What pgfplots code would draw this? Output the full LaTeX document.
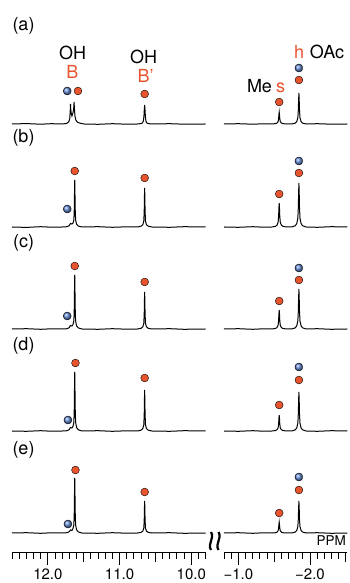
\documentclass[border=0pt]{standalone}
\usepackage{pgfplots}
\pgfplotsset{compat=1.18}
\usepackage{fontspec}
\setmainfont{TeX Gyre Heros}
\definecolor{dotorange}{RGB}{232,84,46}
\definecolor{ballblue}{RGB}{95,135,210}
\newcommand{\tickfont}{\fontsize{15}{17}\selectfont}
\newcommand{\lblfont}{\fontsize{18}{20}\selectfont}
\pgfplotsset{
  nmr/.style={scale only axis, height=552pt, ymin=31, ymax=583, clip=false,
    x dir=reverse, hide y axis, axis x line=bottom,
    x axis line style={-, line width=1pt},
    tick align=outside, major tick length=13pt, minor tick length=7pt,
    tick style={black, line width=0.9pt},
    xticklabel style={font=\tickfont},
    extra x tick labels={}, extra x tick style={major tick length=9.5pt}},
  spec/.style={black, line width=1pt, no marks},
  odot/.style={only marks, mark=*, mark size=3.9pt, mark options={draw=none, fill=dotorange}},
  bdot/.style={only marks, mark=ball, mark size=4pt, mark options={ball color=ballblue}},
}
\begin{document}
\begin{tikzpicture}[x=1pt,y=1pt]
\useasboundingbox (0,0) rectangle (349,583);
% ---------------- left part ----------------
\begin{axis}[nmr, at={(12pt,31pt)}, anchor=south west, width=193.6pt,
  xmin=9.8, xmax=12.5, xtick={10,11,12}, xticklabels={10.0,11.0,12.0},
  minor xtick={9.8,9.9,10.1,10.2,10.3,10.4,10.6,10.7,10.8,10.9,11.1,11.2,11.3,11.4,11.6,11.7,11.8,11.9,12.1,12.2,12.3,12.4,12.5},
  extra x ticks={10.5,11.5}]
% (a)
\addplot[spec] coordinates {(12.5,459)(12.3,459.4)(12.1,458.8)(11.95,459.3)(11.80,459)(11.74,459.5)(11.71,461)(11.695,464)(11.688,472)(11.684,479)(11.680,473)(11.672,469)(11.664,467)(11.650,470)(11.640,474)(11.634,481)(11.630,475)(11.622,467)(11.61,463)(11.59,461)(11.56,460)(11.50,459)(11.3,458.7)(11.1,459.3)(10.9,458.8)(10.75,459)(10.70,459.4)(10.68,460.1)(10.668,461.9)(10.66,466.6)(10.655,473.3)(10.650,478)(10.645,473.3)(10.64,466.6)(10.632,461.9)(10.62,460.1)(10.60,459.4)(10.55,459)(10.3,459.3)(10.1,458.8)(9.8,459)};
% (b)
\addplot[spec] coordinates {(12.5,356)(12.3,355.6)(12.1,356.3)(11.95,355.8)(11.80,356)(11.73,356.3)(11.70,357.5)(11.685,359.5)(11.665,359)(11.650,359.8)(11.637,363.1)(11.631,374.8)(11.628,391.3)(11.625,403)(11.622,391.3)(11.619,374.8)(11.613,363.1)(11.600,358.8)(11.575,356.9)(11.525,356)(11.3,356.3)(11.1,355.7)(10.9,356.2)(10.75,356)(10.70,356.8)(10.675,358.3)(10.662,361.9)(10.656,371.6)(10.653,385.3)(10.650,395)(10.647,385.3)(10.644,371.6)(10.638,361.9)(10.625,358.3)(10.60,356.8)(10.55,356)(10.3,355.7)(10.1,356.3)(9.8,356)};
% (c)
\addplot[spec] coordinates {(12.5,254)(12.3,254.3)(12.1,253.7)(11.95,254.2)(11.80,254)(11.73,254.3)(11.70,255.5)(11.685,257.5)(11.665,257)(11.650,258.2)(11.637,262.1)(11.631,275.6)(11.628,294.5)(11.625,308)(11.622,294.5)(11.619,275.6)(11.613,262.1)(11.600,257.2)(11.575,255.1)(11.525,254)(11.3,253.7)(11.1,254.3)(10.9,253.8)(10.75,254)(10.70,254.7)(10.675,256.2)(10.662,259.6)(10.656,268.8)(10.653,281.8)(10.650,291)(10.647,281.8)(10.644,268.8)(10.638,259.6)(10.625,256.2)(10.60,254.7)(10.55,254)(10.3,254.3)(10.1,253.7)(9.8,254)};
% (d)
\addplot[spec] coordinates {(12.5,152)(12.3,151.7)(12.1,152.3)(11.95,151.8)(11.80,152)(11.73,152.3)(11.70,153.5)(11.685,155.5)(11.665,155)(11.650,156.5)(11.637,160.9)(11.631,175.6)(11.628,196.3)(11.625,211)(11.622,196.3)(11.619,175.6)(11.613,160.9)(11.600,155.5)(11.575,153.2)(11.525,152)(11.3,152.3)(11.1,151.7)(10.9,152.2)(10.75,152)(10.70,152.8)(10.675,154.5)(10.662,158.2)(10.656,168.4)(10.653,182.8)(10.650,193)(10.647,182.8)(10.644,168.4)(10.638,158.2)(10.625,154.5)(10.60,152.8)(10.55,152)(10.3,151.7)(10.1,152.3)(9.8,152)};
% (e)
\addplot[spec] coordinates {(12.5,50)(12.3,50.3)(12.1,49.7)(11.95,50.2)(11.80,50)(11.73,50.3)(11.70,51.5)(11.685,53)(11.665,52.5)(11.650,54.3)(11.637,58.3)(11.631,72)(11.628,91.3)(11.625,105)(11.622,91.3)(11.619,72)(11.613,58.3)(11.600,53.3)(11.575,51.1)(11.525,50)(11.3,49.7)(11.1,50.3)(10.9,49.8)(10.75,50)(10.70,50.6)(10.675,51.9)(10.662,54.8)(10.656,62.8)(10.653,74)(10.650,82)(10.647,74)(10.644,62.8)(10.638,54.8)(10.625,51.9)(10.60,50.6)(10.55,50)(10.3,50.3)(10.1,49.7)(9.8,50)};
% markers
\addplot[odot] coordinates {(11.58,492)(10.65,489)(11.625,412)(10.65,405)(11.625,317)(10.65,301)(11.615,220)(10.65,205)(11.615,113)(10.65,91)};
\addplot[bdot] coordinates {(11.73,492)(11.73,374)(11.73,267)(11.72,163)(11.72,59)};
\end{axis}
% ---------------- right part ----------------
\begin{axis}[nmr, at={(224pt,31pt)}, anchor=south west, width=123.3pt,
  xmin=-2.52, xmax=-0.8, xtick={-2,-1}, xticklabels={−2.0,−1.0},
  minor xtick={-0.8,-0.9,-1.1,-1.2,-1.3,-1.4,-1.6,-1.7,-1.8,-1.9,-2.1,-2.2,-2.3,-2.4},
  extra x ticks={-1.5,-2.5}]
\addplot[spec] coordinates {(-0.8,459)(-1.0,459.3)(-1.2,458.8)(-1.35,459.2)(-1.47,459)(-1.52,459.4)(-1.54,460)(-1.555,461.4)(-1.562,464.4)(-1.566,468.4)(-1.57,471)(-1.574,468.4)(-1.578,464.4)(-1.585,461.4)(-1.60,460)(-1.62,459.4)(-1.67,459)(-1.745,459)(-1.795,459.9)(-1.815,461.5)(-1.83,465.2)(-1.837,473)(-1.841,483.2)(-1.845,490)(-1.849,483.2)(-1.853,473)(-1.86,465.2)(-1.875,461.5)(-1.895,459.9)(-1.945,459)(-2.1,459.3)(-2.3,458.8)(-2.52,459)};
\addplot[spec] coordinates {(-0.8,356)(-1.0,355.7)(-1.2,356.3)(-1.35,355.8)(-1.47,356)(-1.52,356.7)(-1.54,357.9)(-1.555,360.8)(-1.562,366.8)(-1.566,374.7)(-1.57,380)(-1.574,374.7)(-1.578,366.8)(-1.585,360.8)(-1.60,357.9)(-1.62,356.7)(-1.67,356)(-1.745,356)(-1.795,357.3)(-1.815,359.5)(-1.83,364.8)(-1.837,375.8)(-1.841,390.3)(-1.845,400)(-1.849,390.3)(-1.853,375.8)(-1.86,364.8)(-1.875,359.5)(-1.895,357.3)(-1.945,356)(-2.1,355.7)(-2.3,356.3)(-2.52,356)};
\addplot[spec] coordinates {(-0.8,254)(-1.0,254.3)(-1.2,253.7)(-1.35,254.2)(-1.47,254)(-1.52,254.6)(-1.54,255.5)(-1.555,257.8)(-1.562,262.6)(-1.566,268.8)(-1.57,273)(-1.574,268.8)(-1.578,262.6)(-1.585,257.8)(-1.60,255.5)(-1.62,254.6)(-1.67,254)(-1.745,254)(-1.795,255.2)(-1.815,257.2)(-1.83,262)(-1.837,272)(-1.841,285.2)(-1.845,294)(-1.849,285.2)(-1.853,272)(-1.86,262)(-1.875,257.2)(-1.895,255.2)(-1.945,254)(-2.1,254.3)(-2.3,253.7)(-2.52,254)};
\addplot[spec] coordinates {(-0.8,152)(-1.0,151.7)(-1.2,152.3)(-1.35,151.8)(-1.47,152)(-1.52,152.5)(-1.54,153.3)(-1.555,155.2)(-1.562,159.2)(-1.566,164.5)(-1.57,168)(-1.574,164.5)(-1.578,159.2)(-1.585,155.2)(-1.60,153.3)(-1.62,152.5)(-1.67,152)(-1.745,152)(-1.795,153.2)(-1.815,155.1)(-1.83,159.8)(-1.837,169.6)(-1.841,182.4)(-1.845,191)(-1.849,182.4)(-1.853,169.6)(-1.86,159.8)(-1.875,155.1)(-1.895,153.2)(-1.945,152)(-2.1,151.7)(-2.3,152.3)(-2.52,152)};
\addplot[spec] coordinates {(-0.8,50)(-1.0,50.3)(-1.2,49.7)(-1.35,50.2)(-1.47,50)(-1.52,50.3)(-1.54,50.9)(-1.555,52.2)(-1.562,55)(-1.566,58.6)(-1.57,61)(-1.574,58.6)(-1.578,55)(-1.585,52.2)(-1.60,50.9)(-1.62,50.3)(-1.67,50)(-1.745,50)(-1.795,51)(-1.815,52.6)(-1.83,56.4)(-1.837,64.4)(-1.841,75)(-1.845,82)(-1.849,75)(-1.853,64.4)(-1.86,56.4)(-1.875,52.6)(-1.895,51)(-1.945,50)(-2.1,50.3)(-2.3,49.7)(-2.52,50)};
\addplot[odot] coordinates {(-1.57,481)(-1.57,389)(-1.57,282)(-1.57,178)(-1.57,70)(-1.845,503)(-1.845,410)(-1.845,303)(-1.845,203)(-1.845,93)};
\addplot[bdot] coordinates {(-1.845,515)(-1.845,422)(-1.845,315)(-1.845,216)(-1.845,106)};
\end{axis}
% break symbol
\draw[line width=2.2pt] (211,33) .. controls (207,39.5) and (215,44.5) .. (211,51);
\draw[line width=2.2pt] (218.5,33) .. controls (214.5,39.5) and (222.5,44.5) .. (218.5,51);
% panel labels
\foreach \l/\y in {a/557.5,b/445,c/340,d/237.5,e/133.5}
  \node[font=\lblfont, inner sep=0pt] at (23.5,\y) {(\l)};
% peak labels
\node[font=\lblfont, anchor=base, inner sep=0pt] at (72.7,523) {OH};
\node[font=\lblfont, anchor=base, inner sep=0pt, text=dotorange] at (72.5,504) {B};
\node[font=\lblfont, anchor=base, inner sep=0pt] at (143.5,519) {OH};
\node[font=\lblfont, anchor=base west, inner sep=0pt, text=dotorange] at (137.5,500) {B’};
\node[font=\lblfont, anchor=base, inner sep=0pt] at (259.5,490) {Me};
\node[font=\lblfont, anchor=base, inner sep=0pt, text=dotorange] at (280.5,490) {s};
\node[font=\lblfont, anchor=base, inner sep=0pt, text=dotorange] at (299,524) {h};
\node[font=\lblfont, anchor=base, inner sep=0pt] at (327,524) {OAc};
\node[font=\fontsize{13.5}{15}\selectfont, anchor=base east, inner sep=0pt] at (346,37) {PPM};
\end{tikzpicture}
\end{document}
